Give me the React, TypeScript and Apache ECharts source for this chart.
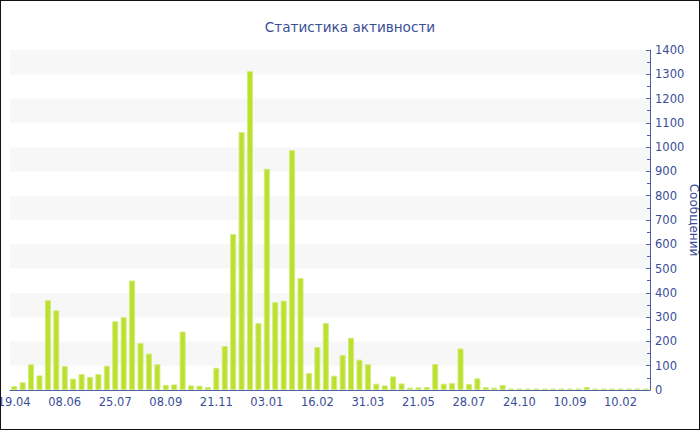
import React, { useEffect, useRef } from "react";
import * as echarts from "echarts";

const title = "Статистика активности";
const yName = "Сообщений";

const dates = [
  "19.04", "27.04", "05.05", "14.05", "22.05", "31.05",
  "08.06", "15.06", "22.06", "29.06", "06.07", "16.07",
  "25.07", "03.08", "11.08", "19.08", "25.08", "01.09",
  "08.09", "21.09", "04.10", "18.10", "30.10", "10.11",
  "21.11", "01.12", "10.12", "17.12", "22.12", "28.12",
  "03.01", "10.01", "17.01", "25.01", "01.02", "09.02",
  "16.02", "23.02", "02.03", "09.03", "16.03", "24.03",
  "31.03", "07.04", "15.04", "25.04", "04.05", "13.05",
  "21.05", "02.06", "14.06", "24.06", "05.07", "17.07",
  "28.07", "12.08", "26.08", "12.09", "28.09", "11.10",
  "24.10", "20.12", "15.02", "18.04", "20.06", "16.08",
  "10.09", "08.10", "05.11", "03.12", "31.12", "14.01",
  "10.02", "07.03", "04.04", "02.05",
];

const messages = [
  16, 32, 106, 60, 370, 328,
  99, 47, 66, 54, 66, 100,
  283, 300, 451, 193, 150, 106,
  21, 23, 241, 19, 18, 12,
  92, 181, 642, 1062, 1313, 276,
  911, 362, 368, 988, 461, 70,
  177, 276, 59, 144, 215, 125,
  106, 26, 19, 56, 27, 10,
  11, 12, 107, 26, 29, 171,
  25, 48, 12, 10, 21, 6,
  6, 6, 6, 6, 6, 6,
  6, 6, 12, 6, 6, 6,
  6, 6, 6, 6,
];

const yTicks = { min: 0, max: 1400, interval: 100 };

const textBlue = "#3a4e98";
const axisBlue = "#4d60a6";

export default function App() {
  const ref = useRef<HTMLDivElement>(null);
  useEffect(() => {
    if (!ref.current) return;
    const chart = echarts.init(ref.current, undefined, { renderer: "svg" });
    chart.setOption({
      animation: false,
      backgroundColor: "#fff",
      title: {
        text: title,
        left: "center",
        top: 14,
        textStyle: {
          color: textBlue,
          fontSize: 13.6,
          fontWeight: "normal",
          fontFamily: "DejaVu Sans",
        },
      },
      grid: {
        left: 9,
        right: 49,
        top: 49,
        bottom: 39,
        containLabel: false,
        outerBoundsMode: "none",
      },
      xAxis: {
        type: "category",
        data: dates,
        axisLine: { lineStyle: { color: axisBlue, width: 1 } },
        axisTick: {
          alignWithLabel: true,
          interval: 5,
          length: 3,
          lineStyle: { color: "#8a93b0" },
        },
        axisLabel: {
          interval: 5,
          margin: 6,
          color: textBlue,
          fontSize: 11.5,
          fontFamily: "DejaVu Sans",
        },
        splitLine: { show: false },
      },
      yAxis: {
        type: "value",
        position: "right",
        min: yTicks.min,
        max: yTicks.max,
        interval: yTicks.interval,
        name: yName,
        nameLocation: "middle",
        nameRotate: -90,
        nameGap: 38,
        nameMoveOverlap: false,
        nameTextStyle: {
          color: textBlue,
          fontSize: 12,
          fontFamily: "DejaVu Sans",
        },
        axisLine: { show: true, lineStyle: { color: axisBlue, width: 1 } },
        axisTick: {
          show: true,
          inside: true,
          length: 4,
          lineStyle: { color: axisBlue },
        },
        minorTick: {
          show: true,
          splitNumber: 2,
          length: 3,
          lineStyle: { color: axisBlue },
        },
        axisLabel: {
          margin: 5,
          color: textBlue,
          fontSize: 11.5,
          fontFamily: "DejaVu Sans",
          formatter: (v: number) => String(v),
        },
        splitLine: { show: false },
        splitArea: {
          show: true,
          areaStyle: { color: ["#ffffff", "#f7f7f7"] },
        },
      },
      series: [
        {
          type: "bar",
          data: messages,
          barCategoryGap: "28%",
          itemStyle: {
            color: "#bbe02f",
            borderColor: "#d3ec7c",
            borderWidth: 1,
          },
        },
      ],
    });
    return () => chart.dispose();
  }, []);
  return (
    <div
      style={{
        position: "fixed",
        left: 0,
        top: 0,
        width: 700,
        height: 430,
        boxSizing: "border-box",
        border: "1px solid #111",
        background: "#fff",
        overflow: "hidden",
      }}
    >
      <div ref={ref} style={{ width: 698, height: 428 }} />
    </div>
  );
}
